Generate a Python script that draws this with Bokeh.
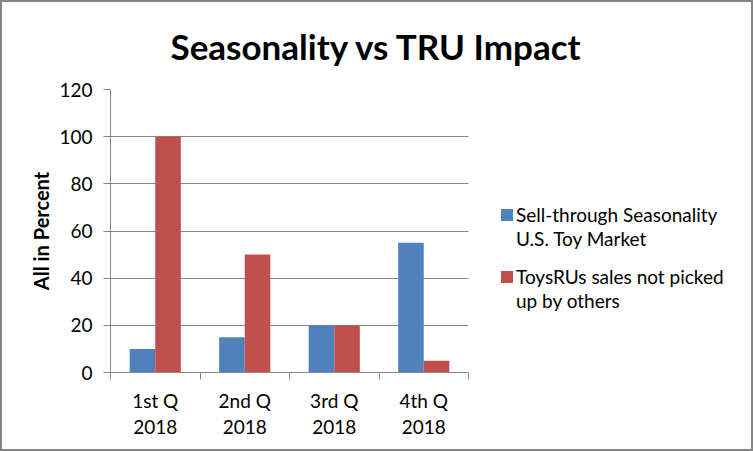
import numpy as np
from bokeh.plotting import figure
from bokeh.models import (Range1d, FixedTicker, Legend, LegendItem, ColumnDataSource,
                          BoxAnnotation)
from bokeh.embed import file_html
from bokeh.resources import INLINE

quarters = ["1st Q\n2018", "2nd Q\n2018", "3rd Q\n2018", "4th Q\n2018"]
sell_through = [10, 15, 20, 55]
toysrus_lost = [100, 50, 20, 5]
series_lines = [["Sell-through Seasonality", "U.S. Toy Market"],
                ["ToysRUs sales not picked", "up by others"]]
y_ticks = [0, 20, 40, 60, 80, 100, 120]

BLUE = "#4F81BD"
RED = "#C0504D"
GRID = "#868686"
FONT = "Lato"

# layout (pixels)
W, H = 753, 451
LEFT, RIGHT_PAD, TOP, BOTTOM = 108, 4, 87, 81
PLOT_W = 358  # width of the bar area; the rest of the frame holds the legend
frame_w = W - LEFT - RIGHT_PAD

n = len(quarters)
centers = np.arange(n) + 0.5
bar_w = 1 / 3.5  # Excel gap width 150%
x_end = n * frame_w / PLOT_W

src = ColumnDataSource(dict(
    xb=centers - bar_w / 2, xr=centers + bar_w / 2,
    sell=sell_through, tru=toysrus_lost,
))

p = figure(width=W, height=H, output_backend="svg", toolbar_location=None,
           x_range=Range1d(0, x_end), y_range=Range1d(0, 120),
           min_border_left=LEFT, min_border_right=RIGHT_PAD, min_border_top=TOP,
           min_border_bottom=BOTTOM, background_fill_color="white",
           border_fill_color="white", outline_line_color=None)

p.title.text = "Seasonality vs TRU Impact"
p.title.align = "left"
p.title.offset = 60
p.title.vertical_align = "top"
p.title.text_font = FONT
p.title.text_font_size = "35px"
p.title.text_font_style = "bold"
p.title.text_color = "black"
p.title.standoff = 42

r1 = p.vbar(x="xb", top="sell", width=bar_w, source=src, fill_color=BLUE, line_color=None)
r2 = p.vbar(x="xr", top="tru", width=bar_w, source=src, fill_color=RED, line_color=None)
# transparent, empty renderer used only for the second line of each legend label
blank = p.vbar(x=[], top=[], width=bar_w, fill_alpha=0, line_alpha=0)

# y axis
p.yaxis.ticker = FixedTicker(ticks=y_ticks)
p.yaxis.axis_line_color = GRID
p.yaxis.major_tick_line_color = GRID
p.yaxis.major_tick_out = 7
p.yaxis.major_tick_in = 0
p.yaxis.minor_tick_line_color = None
p.yaxis.major_label_text_font = FONT
p.yaxis.major_label_text_font_size = "19px"
p.yaxis.major_label_text_color = "black"
p.yaxis.major_label_standoff = 11
p.yaxis.axis_label = "All in Percent"
p.yaxis.axis_label_text_font = FONT
p.yaxis.axis_label_text_font_size = "20px"
p.yaxis.axis_label_text_font_style = "bold"
p.yaxis.axis_label_text_color = "black"
p.yaxis.axis_label_standoff = 3

# x axis: labels at centers, tick marks at category boundaries
p.xaxis.bounds = (0, n)
p.xaxis.ticker = FixedTicker(ticks=list(centers), minor_ticks=list(range(n + 1)))
p.xaxis.major_label_overrides = {float(c): q for c, q in zip(centers, quarters)}
p.xaxis.major_tick_line_color = None
p.xaxis.major_tick_out = 0
p.xaxis.major_tick_in = 0
p.xaxis.minor_tick_line_color = GRID
p.xaxis.minor_tick_out = 7
p.xaxis.minor_tick_in = 0
p.xaxis.axis_line_color = GRID
p.xaxis.major_label_text_font = FONT
p.xaxis.major_label_text_font_size = "19px"
p.xaxis.major_label_text_color = "black"
p.xaxis.major_label_text_line_height = 1.15
p.xaxis.major_label_standoff = 9

p.xgrid.grid_line_color = None
p.ygrid.grid_line_color = GRID
p.ygrid.ticker = FixedTicker(ticks=y_ticks)

# blank out the gridlines in the legend area to the right of the bars
p.add_layout(BoxAnnotation(left=n, fill_color="white", fill_alpha=1, line_color=None))

def make_legend(lines, renderer, y):
    return Legend(items=[LegendItem(label=lines[0], renderers=[renderer]),
                         LegendItem(label=lines[1], renderers=[blank])],
                  location=(389, y), padding=0, margin=0, spacing=0,
                  glyph_width=15, glyph_height=15, label_standoff=2, label_height=24,
                  border_line_color=None, background_fill_alpha=0,
                  label_text_font=FONT, label_text_font_size="19px",
                  label_text_color="black")

p.add_layout(make_legend(series_lines[0], r1, 122))
p.add_layout(make_legend(series_lines[1], r2, 60))

p.styles = {"border": "2px solid #868686", "box-sizing": "border-box"}

open("out.html", "w").write(file_html(p, INLINE))
